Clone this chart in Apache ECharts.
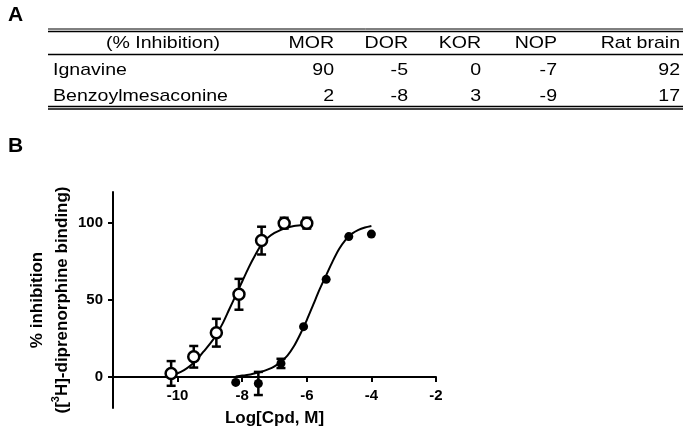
<!DOCTYPE html>
<html>
<head>
<meta charset="utf-8">
<script src="https://cdn.jsdelivr.net/npm/echarts@6/dist/echarts.min.js"></script>
<style>html,body{margin:0;padding:0;background:#fff}#c{width:685px;height:430px}</style>
</head>
<body>
<div id="c"></div>
<script>
// ---- Panel A table data ----
const tableHeader = '(% Inhibition)';
const tableColumns = ['MOR', 'DOR', 'KOR', 'NOP', 'Rat brain'];
const tableRows = ['Ignavine', 'Benzoylmesaconine'];
const ignavineValues = [90, -5, 0, -7, 92];
const benzoylValues = [2, -8, 3, -9, 17];

// ---- Panel B data ----
const xTicks = [-10, -8, -6, -4, -2];
const yTicks = [0, 50, 100];
// open circles
const openX = [-10.2, -9.5, -8.8, -8.1, -7.4, -6.7, -6.0];
const openY = [2.4, 13.2, 28.8, 53.7, 88.5, 99.8, 99.8];
const openErr = [8, 7, 9, 10, 9, 3.5, 3.5];
// filled circles
const filledX = [-8.2, -7.5, -6.8, -6.1, -5.4, -4.7, -4.0];
const filledY = [-3.4, -4.1, 8.9, 32.7, 63.4, 91.1, 92.7];
const filledErr = [0, 7.5, 3, 0, 0, 0, 0];
// fitted curves
const openCurveX = [-10.2, -10.0, -9.8, -9.6, -9.4, -9.2, -9.0, -8.8, -8.6, -8.4, -8.2, -8.0, -7.8, -7.6, -7.4, -7.2, -7.0, -6.8, -6.6, -6.4, -6.2, -6.0];
const openCurveY = [1.5, 2.5, 4.5, 7.5, 11.5, 16.5, 21.5, 27.5, 35, 44, 53, 62, 71, 79, 86, 90.5, 93.5, 95.5, 97, 98, 98.5, 99];
const filledCurveX = [-8.2, -8.0, -7.8, -7.6, -7.4, -7.2, -7.0, -6.8, -6.6, -6.4, -6.2, -6.0, -5.8, -5.6, -5.4, -5.2, -5.0, -4.8, -4.6, -4.4, -4.2, -4.0];
const filledCurveY = [0.5, 1, 1.5, 2.5, 3.5, 5, 7, 10, 14, 20, 28, 37, 47, 57, 66, 75, 83, 89, 93, 95.5, 97, 98];

const zip = (a, b) => a.map((v, i) => [v, b[i]]);
const zip3 = (a, b, c) => a.map((v, i) => [v, b[i], c[i]]);

// ---- table graphics ----
const FONT = 'Liberation Sans, Arial, sans-serif';
const TSIZE = 17, TSCALE = 1.15;
const tableLeft = 48, tableRight = 683;
const colRight = [334, 408, 481, 557, 680];
const headerY = 43, rowY = [70, 96];
const g = [];
g.push({type: 'text', x: 8, y: 15, style: {text: 'A', font: 'bold 21px ' + FONT, fill: '#000', textVerticalAlign: 'middle'}});
g.push({type: 'text', x: 8, y: 146, style: {text: 'B', font: 'bold 21px ' + FONT, fill: '#000', textVerticalAlign: 'middle'}});
function hline(y, w) {
  g.push({type: 'line', shape: {x1: tableLeft, y1: y, x2: tableRight, y2: y}, style: {stroke: '#000', lineWidth: w}});
}
hline(29, 1); hline(31.5, 1.5); hline(54.5, 1.5); hline(106.5, 1.5); hline(109, 1.5);
function txt(t, x, y, align) {
  g.push({type: 'text', x: x, y: y, scaleX: TSCALE,
    style: {text: String(t), font: TSIZE + 'px ' + FONT, fill: '#000', textAlign: align, textVerticalAlign: 'middle'}});
}
txt(tableHeader, 163, headerY, 'center');
tableColumns.forEach((c, i) => txt(c, colRight[i], headerY, 'right'));
const rowVals = [ignavineValues, benzoylValues];
tableRows.forEach((r, ri) => {
  txt(r, 53, rowY[ri], 'left');
  rowVals[ri].forEach((v, i) => txt(v, colRight[i], rowY[ri], 'right'));
});

function errItem(params, api) {
  const x = api.value(0), y = api.value(1), e = api.value(2);
  if (!e) return null;
  const t = api.coord([x, y + e]), b = api.coord([x, y - e]);
  const w = 4.5, st = {stroke: '#000', lineWidth: 2.5};
  return {type: 'group', children: [
    {type: 'line', shape: {x1: t[0], y1: t[1], x2: b[0], y2: b[1]}, style: st},
    {type: 'line', shape: {x1: t[0] - w, y1: t[1], x2: t[0] + w, y2: t[1]}, style: st},
    {type: 'line', shape: {x1: b[0] - w, y1: b[1], x2: b[0] + w, y2: b[1]}, style: st}
  ]};
}

const chart = echarts.init(document.getElementById('c'), null, {renderer: 'canvas'});
chart.setOption({
  animation: false,
  backgroundColor: '#fff',
  graphic: g,
  grid: {left: 113, right: 249, top: 192, bottom: 22, containLabel: false, outerBoundsMode: 'none'},
  xAxis: {
    type: 'value', min: -12, max: -2, interval: 2, position: 'bottom', offset: -31,
    axisLine: {onZero: false, lineStyle: {color: '#000', width: 2}},
    axisTick: {show: true, inside: false, length: 5, customValues: xTicks, lineStyle: {color: '#000', width: 2}},
    axisLabel: {customValues: xTicks, margin: 11, color: '#000', fontSize: 15, fontWeight: 'bold', fontFamily: FONT},
    splitLine: {show: false},
    name: 'Log[Cpd, M]', nameLocation: 'middle', nameGap: 33, nameMoveOverlap: false,
    nameTextStyle: {color: '#000', fontSize: 17, fontWeight: 'bold', fontFamily: FONT}
  },
  yAxis: {
    type: 'value', min: -20, max: 120,
    axisLine: {show: true, onZero: false, lineStyle: {color: '#000', width: 2}},
    axisTick: {show: true, length: 5, customValues: yTicks, lineStyle: {color: '#000', width: 2}},
    axisLabel: {customValues: yTicks, margin: 10, color: '#000', fontSize: 15, fontWeight: 'bold', fontFamily: FONT},
    splitLine: {show: false},
    name: '{b|% inhibition}\n{b|([}{s|3}{b|H]-diprenorphine binding)}',
    nameLocation: 'middle', nameRotate: 90, nameGap: 38,
    nameTextStyle: {
      color: '#000', fontFamily: FONT, align: 'center',
      rich: {
        b: {fontSize: 17, fontWeight: 'bold', lineHeight: 25, fontFamily: FONT, color: '#000'},
        s: {fontSize: 11, fontWeight: 'bold', lineHeight: 25, verticalAlign: 'top', padding: [0, 0, 6, 0], fontFamily: FONT, color: '#000'}
      }
    }
  },
  series: [
    {type: 'line', data: zip(openCurveX, openCurveY), smooth: 0.3, showSymbol: false,
      lineStyle: {color: '#000', width: 2}, z: 2, silent: true},
    {type: 'line', data: zip(filledCurveX, filledCurveY), smooth: 0.3, showSymbol: false,
      lineStyle: {color: '#000', width: 2}, z: 2, silent: true},
    {type: 'custom', renderItem: errItem, data: zip3(openX, openY, openErr), encode: {x: 0, y: 1}, z: 3},
    {type: 'custom', renderItem: errItem, data: zip3(filledX, filledY, filledErr), encode: {x: 0, y: 1}, z: 3},
    {type: 'scatter', data: zip(openX, openY), symbol: 'circle', symbolSize: 11,
      itemStyle: {color: '#fff', borderColor: '#000', borderWidth: 2.5, opacity: 1}, z: 4},
    {type: 'scatter', data: zip(filledX, filledY), symbol: 'circle', symbolSize: 9,
      itemStyle: {color: '#000', opacity: 1}, z: 4}
  ]
});
</script>
</body>
</html>
